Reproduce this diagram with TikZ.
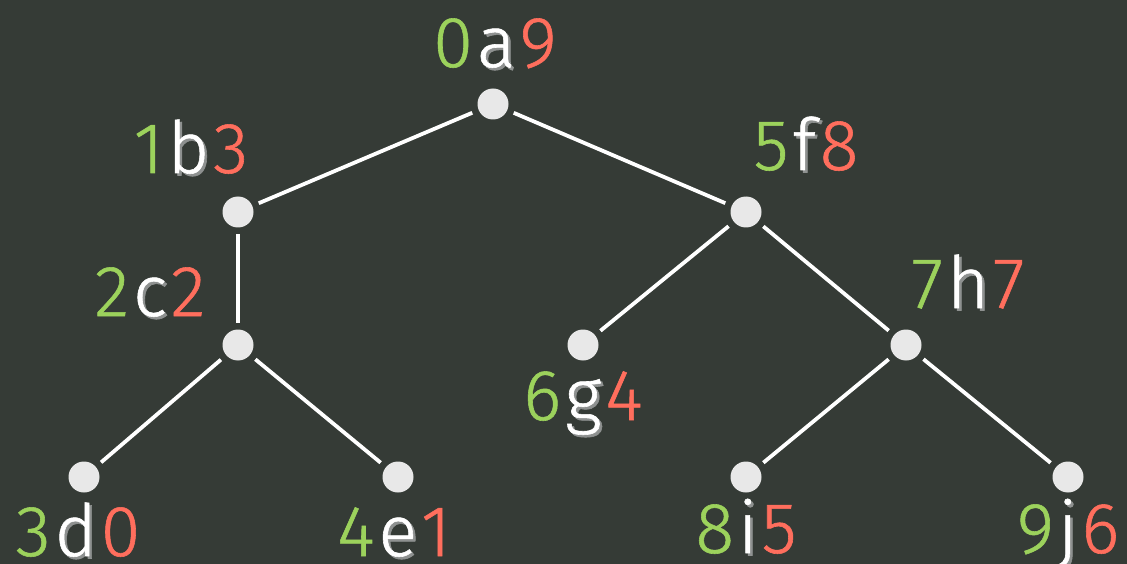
\documentclass[tikz,border=0pt]{standalone}
\usepackage{fontspec}
\setmainfont{Fira Sans Light}[FakeBold=0.8]
\definecolor{bg}{HTML}{353B36}
\definecolor{lgreen}{HTML}{9CD25C}
\definecolor{lred}{HTML}{FF6E5D}
\definecolor{dotfill}{HTML}{E8E8E8}
\definecolor{shadowgray}{HTML}{8E9190}
\newcommand\shl[1]{\rlap{\kern2.5pt\raisebox{-2.5pt}{\textcolor{shadowgray}{#1}}}\textcolor{white}{#1}}
\newcommand\trip[3]{\textcolor{lgreen}{#1}\kern4pt\shl{#2}\kern4pt\textcolor{lred}{#3}}
\begin{document}
\begin{tikzpicture}[x=1pt,y=-1pt,
  dot/.style={circle,fill=dotfill,minimum size=31pt,inner sep=0pt,outer sep=7pt},
  edge/.style={draw=white,line width=3.8pt},
  lab/.style={font=\fontsize{72}{72}\selectfont,inner sep=0pt,anchor=base}]
\fill[bg] (0,0) rectangle (1127,564);
\useasboundingbox (0,0) rectangle (1127,564);
\node[dot] (a) at (493,104) {};
\node[dot] (b) at (238,212) {};
\node[dot] (c) at (238,345) {};
\node[dot] (d) at (84,477) {};
\node[dot] (e) at (398,477) {};
\node[dot] (f) at (746,212) {};
\node[dot] (g) at (583,345) {};
\node[dot] (h) at (906,345) {};
\node[dot] (i) at (746,477) {};
\node[dot] (j) at (1068,477) {};
\draw[edge] (a) -- (b);
\draw[edge] (a) -- (f);
\draw[edge] (b) -- (c);
\draw[edge] (c) -- (d);
\draw[edge] (c) -- (e);
\draw[edge] (f) -- (g);
\draw[edge] (f) -- (h);
\draw[edge] (h) -- (i);
\draw[edge] (h) -- (j);
\node[lab] (la) at (495,67) {\trip{0}{a}{9}};
\node[lab] (lb) at (191,173) {\trip{1}{b}{3}};
\node[lab] (lf) at (806,170) {\trip{5}{f}{8}};
\node[lab] (lc) at (150,316) {\trip{2}{c}{2}};
\node[lab] (lh) at (968,308) {\trip{7}{h}{7}};
\node[lab] (lg) at (583,420) {\trip{6}{g}{4}};
\node[lab] (ld) at (78,556) {\trip{3}{d}{0}};
\node[lab] (le) at (394,556) {\trip{4}{e}{1}};
\node[lab] (li) at (746,553) {\trip{8}{i}{5}};
\node[lab] (lj) at (1068,553) {\trip{9}{j}{6}};
\end{tikzpicture}
\end{document}
